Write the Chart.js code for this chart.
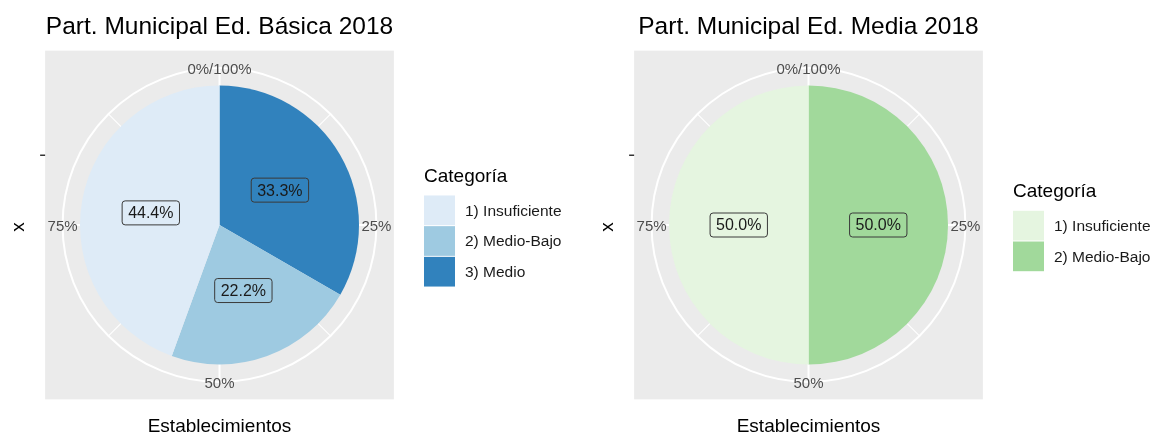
<!DOCTYPE html>
<html>
<head>
<meta charset="utf-8">
<script src="https://cdn.jsdelivr.net/npm/chart.js@4/dist/chart.umd.min.js"></script>
<style>
  html, body { margin: 0; padding: 0; background: #ffffff; }
  #wrap { position: relative; width: 1160px; height: 434px; }
  canvas { position: absolute; top: 0; }
</style>
</head>
<body>
<div id="wrap">
  <canvas id="basica" width="580" height="434" style="left:0px"></canvas>
  <canvas id="media" width="580" height="434" style="left:580px"></canvas>
</div>
<script>
// datos (conteo de establecimientos por categoría)
const categoriasBasica = ["1) Insuficiente", "2) Medio-Bajo", "3) Medio"];
const valoresBasica = [4, 2, 3];
const categoriasMedia = ["1) Insuficiente", "2) Medio-Bajo"];
const valoresMedia = [1, 1];
const etiquetasTheta = ["0%/100%", "25%", "50%", "75%"];

// colores brewer
const coloresBasica = ["#DEEBF7", "#9ECAE1", "#3182BD"];
const coloresMedia = ["#E5F5E0", "#A1D99B"];

const FUENTE = '"Liberation Sans", Arial, sans-serif';

// fondo gris + grilla blanca tipo ggplot (coord_polar)
const panelGgplot = {
  id: "panelGgplot",
  beforeDatasetsDraw(chart) {
    const arc = chart.getDatasetMeta(0).data[0];
    const cx = arc.x, cy = arc.y, R = arc.outerRadius;
    const H = R / 0.8;
    const ctx = chart.ctx;
    ctx.save();
    ctx.fillStyle = "#EBEBEB";
    ctx.fillRect(cx - H, cy - H, 2 * H, 2 * H);
    ctx.strokeStyle = "#ffffff";
    // lineas radiales (menores y mayores)
    for (let k = 0; k < 8; k++) {
      const a = -Math.PI / 2 + k * Math.PI / 4;
      ctx.lineWidth = k % 2 ? 1.1 : 2;
      ctx.beginPath();
      ctx.moveTo(cx, cy);
      ctx.lineTo(cx + Math.cos(a) * 0.9 * H, cy + Math.sin(a) * 0.9 * H);
      ctx.stroke();
    }
    ctx.lineWidth = 2;
    ctx.beginPath();
    ctx.arc(cx, cy, 0.9 * H, 0, Math.PI * 2);
    ctx.stroke();
    ctx.restore();
  },
  afterDraw(chart, args, opts) {
    const meta = chart.getDatasetMeta(0);
    const arc0 = meta.data[0];
    const cx = arc0.x, cy = arc0.y, R = arc0.outerRadius;
    const H = R / 0.8;
    const ctx = chart.ctx;
    const valores = chart.data.datasets[0].data;
    const total = valores.reduce((a, b) => a + b, 0);
    ctx.save();

    // etiquetas de porcentaje en cada sector
    ctx.font = "16px " + FUENTE;
    ctx.textAlign = "center";
    ctx.textBaseline = "middle";
    meta.data.forEach((arc, i) => {
      const mid = (arc.startAngle + arc.endAngle) / 2;
      const x = cx + Math.cos(mid) * R / 2;
      const y = cy + Math.sin(mid) * R / 2;
      const txt = (valores[i] / total * 100).toFixed(1) + "%";
      const w = ctx.measureText(txt).width + 12;
      const h = 24;
      ctx.beginPath();
      ctx.roundRect(x - w / 2, y - h / 2, w, h, 3);
      ctx.fillStyle = chart.data.datasets[0].backgroundColor[i];
      ctx.fill();
      ctx.lineWidth = 1;
      ctx.strokeStyle = "#3a3a3a";
      ctx.stroke();
      ctx.fillStyle = "#1a1a1a";
      ctx.fillText(txt, x, y + 1);
    });

    // etiquetas theta
    ctx.font = "15px " + FUENTE;
    ctx.fillStyle = "#4D4D4D";
    etiquetasTheta.forEach((t, k) => {
      const a = -Math.PI / 2 + k * Math.PI / 2;
      ctx.fillText(t, cx + Math.cos(a) * 0.9 * H, cy + Math.sin(a) * 0.9 * H + 1.5);
    });

    // titulo
    ctx.fillStyle = "#000000";
    ctx.font = "24.5px " + FUENTE;
    ctx.textBaseline = "alphabetic";
    ctx.fillText(opts.titulo, cx, 34);

    // titulos de ejes
    ctx.font = "19px " + FUENTE;
    ctx.fillText("Establecimientos", cx, 432);
    ctx.save();
    ctx.translate(cx - 200.5, cy + 2);
    ctx.rotate(-Math.PI / 2);
    ctx.textBaseline = "middle";
    ctx.fillText("x", 0, 0);
    ctx.restore();

    // marca del eje r
    ctx.strokeStyle = "#333333";
    ctx.lineWidth = 1.5;
    ctx.beginPath();
    ctx.moveTo(cx - H - 5, cy - R / 2);
    ctx.lineTo(cx - H, cy - R / 2);
    ctx.stroke();

    // leyenda
    const cats = opts.categorias, cols = opts.colores;
    const paso = 30.7;
    const lx = cx + 204.5;
    const top = cy + 2.5 - (cats.length * paso - 27) / 2;
    ctx.font = "19px " + FUENTE;
    ctx.textAlign = "left";
    ctx.fillText("Categoría", lx, top - 13);
    ctx.font = "15.5px " + FUENTE;
    ctx.textBaseline = "middle";
    cats.forEach((c, i) => {
      const y = top + i * paso;
      ctx.fillStyle = cols[i];
      ctx.fillRect(lx, y + 0.5, 31, paso - 1);
      ctx.fillStyle = "#1a1a1a";
      ctx.fillText(c, lx + 41, y + paso / 2 + 1);
    });
    ctx.restore();
  }
};

function crearPie(canvasId, titulo, categorias, valores, colores, padIzq, padDer) {
  const ctx = document.getElementById(canvasId).getContext("2d");
  // ggplot apila al revés: el último nivel parte desde arriba en sentido horario
  return new Chart(ctx, {
    type: "pie",
    data: {
      labels: categorias.slice().reverse(),
      datasets: [{
        data: valores.slice().reverse(),
        backgroundColor: colores.slice().reverse(),
        borderWidth: 0,
        hoverOffset: 0
      }]
    },
    options: {
      responsive: false,
      animation: false,
      events: [],
      layout: { padding: { left: padIzq, right: padDer, top: 85, bottom: 69 } },
      plugins: {
        legend: { display: false },
        tooltip: { enabled: false },
        panelGgplot: { titulo: titulo, categorias: categorias, colores: colores }
      }
    },
    plugins: [panelGgplot]
  });
}

crearPie("basica", "Part. Municipal Ed. Básica 2018", categoriasBasica, valoresBasica, coloresBasica, 80, 221);
crearPie("media", "Part. Municipal Ed. Media 2018", categoriasMedia, valoresMedia, coloresMedia, 89, 212);
</script>
</body>
</html>
